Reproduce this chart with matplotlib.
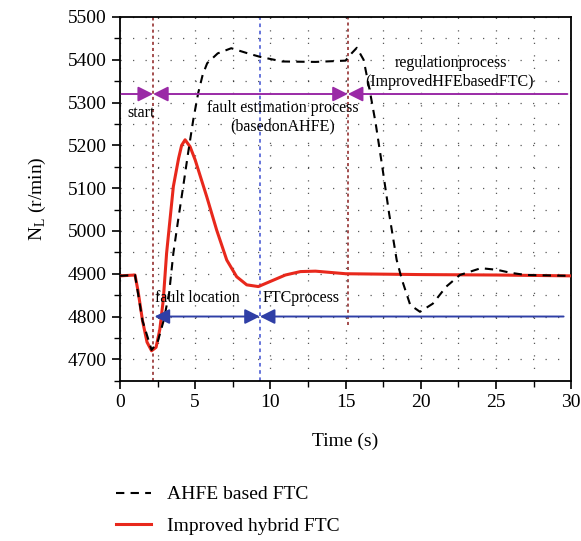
import matplotlib
matplotlib.use('Agg')
import matplotlib.pyplot as plt
from matplotlib.ticker import MultipleLocator
from matplotlib.patches import ArrowStyle

plt.rcParams['font.family'] = 'serif'
plt.rcParams['font.serif'] = ['Liberation Serif', 'DejaVu Serif']
plt.rcParams['mathtext.fontset'] = 'custom'
plt.rcParams['mathtext.rm'] = 'Liberation Serif'

# --- dados ---
t_ahfe = [0, 1.0, 1.5, 2.1, 2.5, 2.9, 3.27, 3.55, 3.87, 4.2, 4.53, 4.87, 5.2, 5.5,
          5.8, 6.5, 7.4, 8.5, 9.3, 10.8, 13.0, 15.0, 15.4, 15.75, 16.2, 16.6, 17.0,
          17.4, 17.9, 18.4, 18.75, 19.3, 19.95, 20.8, 21.7, 22.6, 24.0, 25.1, 26.0,
          27.0, 30.0]
n_ahfe = [4895, 4897, 4790, 4722, 4740, 4790, 4855, 4948, 5026, 5103, 5182, 5259,
          5322, 5365, 5392, 5415, 5427, 5415, 5407, 5396, 5395, 5398, 5415, 5428,
          5400, 5330, 5252, 5160, 5040, 4932, 4886, 4827, 4811, 4830, 4870, 4897,
          4913, 4909, 4902, 4897, 4895]

t_hyb = [0, 1.0, 1.2, 1.5, 1.8, 2.1, 2.4, 2.65, 2.88, 3.1, 3.55, 3.9, 4.1, 4.33,
         4.66, 5.0, 5.77, 6.43, 7.1, 7.76, 8.43, 9.2, 10.2, 11.0, 12.0, 13.0, 14.0,
         15.0, 20.0, 25.0, 30.0]
n_hyb = [4895, 4897, 4860, 4790, 4740, 4720, 4728, 4770, 4839, 4948, 5104, 5170,
         5200, 5213, 5197, 5166, 5080, 5002, 4932, 4893, 4874, 4870, 4885, 4897,
         4905, 4906, 4903, 4900, 4898, 4897, 4895]

x_ticks = [0, 5, 10, 15, 20, 25, 30]
y_ticks = [4700, 4800, 4900, 5000, 5100, 5200, 5300, 5400, 5500]

# marcos das fases (s) e níveis das setas (r/min)
t_start, t_loc, t_ftc, t_reg = 2.2, 2.3, 9.3, 15.15

fig = plt.figure(figsize=(5.81, 5.41), dpi=100)
ax = fig.add_axes([0.2065, 0.2963, 0.7765, 0.6723])

ax.plot(t_hyb, n_hyb, color='#e8281c', lw=2.2, label='Improved hybrid FTC', zorder=3)
ax.plot(t_ahfe, n_ahfe, color='black', lw=1.5, dashes=(4, 3), label='AHFE based FTC', zorder=4)

ax.set_xlim(0, 30)
ax.set_ylim(4650, 5500)
ax.set_xticks(x_ticks)
ax.set_yticks(y_ticks)
ax.xaxis.set_minor_locator(MultipleLocator(2.5))
ax.yaxis.set_minor_locator(MultipleLocator(50))
ax.tick_params(which='major', direction='out', length=6, width=1.2, labelsize=14)
ax.tick_params(which='minor', direction='out', length=4, width=1.0)
ax.grid(which='both', color='black', lw=0.9, linestyle=(0, (1, 9)), alpha=0.65)
for s in ax.spines.values():
    s.set_linewidth(1.3)

ax.set_xlabel('Time (s)', fontsize=14, labelpad=16)
ax.set_ylabel(r'N$_\mathregular{L}$ (r/min)', fontsize=14, labelpad=14)

# linhas verticais das fases
ax.axvline(t_start, color='#8b1e1e', lw=1.1, linestyle=(0, (2, 2)), zorder=2)
ax.vlines(t_reg, 4780, 5500, color='#8b1e1e', lw=1.1, linestyle=(0, (2, 2)), zorder=2)
ax.axvline(t_ftc, color='#5a6ad8', lw=1.3, linestyle=(0, (2, 2)), zorder=2)

purple = '#9a2aa6'
blue = '#2f3fa6'
head = ArrowStyle('-|>', head_length=0.9, head_width=0.45)
both = ArrowStyle('<|-|>', head_length=0.9, head_width=0.45)

def seta(x0, x1, y, cor, estilo):
    ax.annotate('', xy=(x1, y), xytext=(x0, y),
                arrowprops=dict(arrowstyle=estilo, color=cor, lw=1.4,
                                shrinkA=0, shrinkB=0, mutation_scale=10), zorder=5)

seta(0.1, t_start, 5320, purple, head)
seta(t_start, t_reg, 5320, purple, both)
seta(29.75, t_reg, 5320, purple, head)
seta(t_loc, t_ftc, 4800, blue, both)
seta(29.5, t_ftc, 4800, blue, head)

fs = 11.5
ax.text(1.4, 5276, 'start', ha='center', va='center', fontsize=fs)
ax.text(10.8, 5288, 'fault estimation process', ha='center', va='center', fontsize=fs)
ax.text(10.8, 5244, '(basedonAHFE)', ha='center', va='center', fontsize=fs)
ax.text(22.0, 5392, 'regulationprocess', ha='center', va='center', fontsize=fs)
ax.text(21.9, 5348, '(ImprovedHFEbasedFTC)', ha='center', va='center', fontsize=fs)
ax.text(5.13, 4843, 'fault location', ha='center', va='center', fontsize=fs)
ax.text(12.08, 4843, 'FTCprocess', ha='center', va='center', fontsize=fs)

h, l = ax.get_legend_handles_labels()
fig.legend([h[1], h[0]], [l[1], l[0]], loc='center left', bbox_to_anchor=(0.2, 0.057),
           frameon=False, fontsize=14, handlelength=1.8, handletextpad=0.8,
           labelspacing=0.7, borderpad=0, borderaxespad=0)

fig.savefig('out.png', dpi=100)
